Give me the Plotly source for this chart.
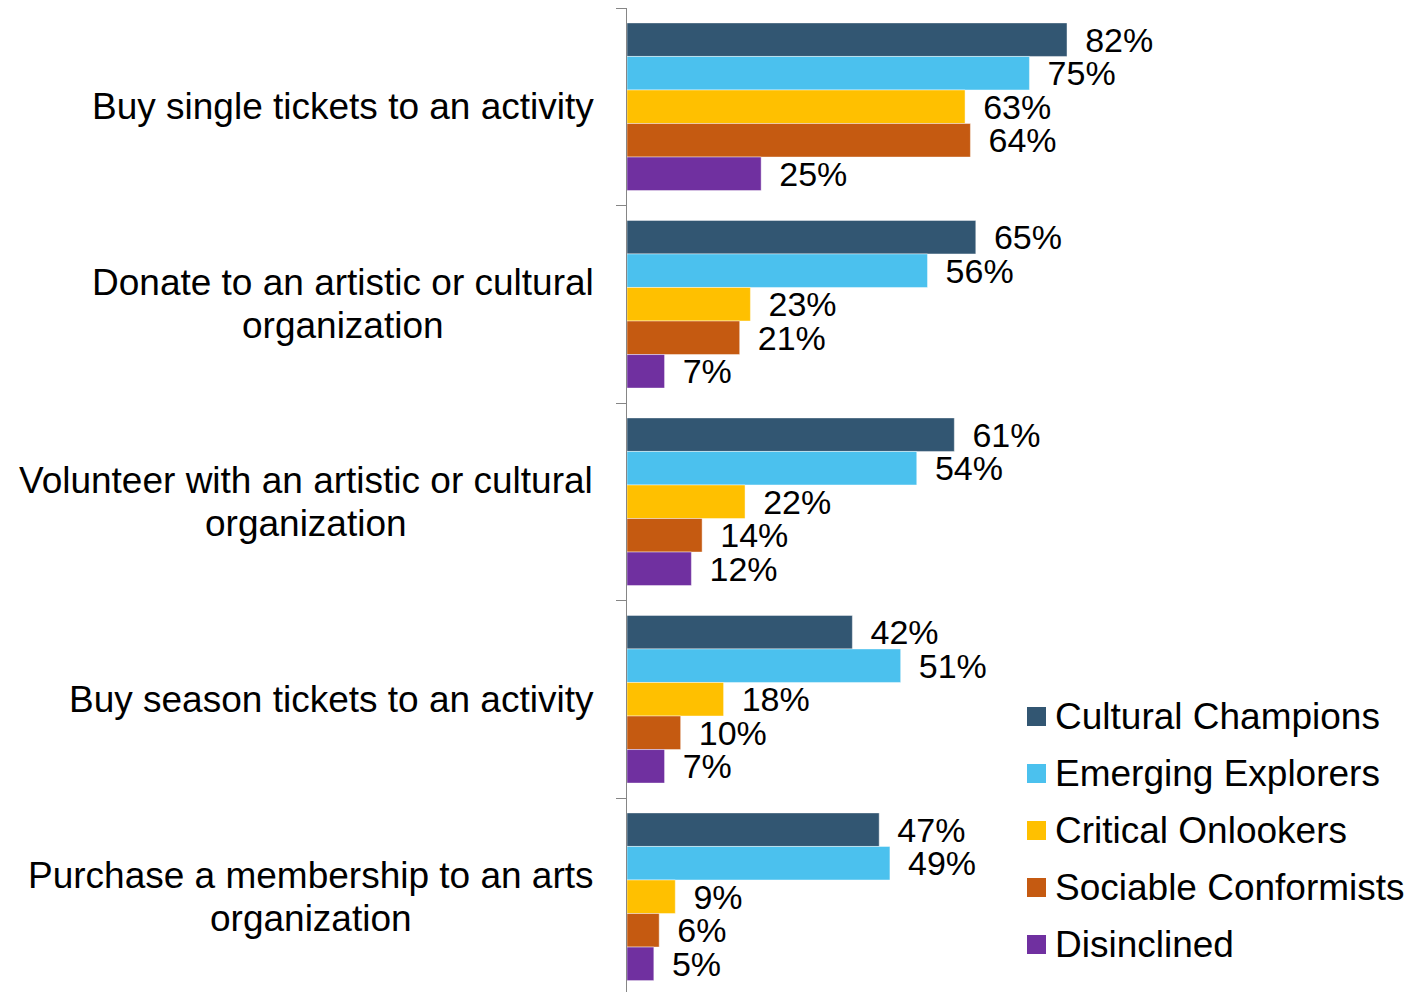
import plotly.graph_objects as go

# Survey activities (top to bottom); each entry is a list of label lines
categories = [
    ["Buy single tickets to an activity"],
    ["Donate to an artistic or cultural", "organization"],
    ["Volunteer with an artistic or cultural", "organization"],
    ["Buy season tickets to an activity"],
    ["Purchase a membership to an arts", "organization"],
]

segments = [
    "Cultural Champions",
    "Emerging Explorers",
    "Critical Onlookers",
    "Sociable Conformists",
    "Disinclined",
]

# Percent of each segment doing the activity, per category
cultural_champions = [82, 65, 61, 42, 47]
emerging_explorers = [75, 56, 54, 51, 49]
critical_onlookers = [63, 23, 22, 18, 9]
sociable_conformists = [64, 21, 14, 10, 6]
disinclined = [25, 7, 12, 7, 5]

series_values = [
    cultural_champions,
    emerging_explorers,
    critical_onlookers,
    sociable_conformists,
    disinclined,
]

colors = ["#325672", "#4BC1EE", "#FFC000", "#C55A11", "#7030A0"]

FONT = "Liberation Sans, Arial, sans-serif"
W, H = 1413, 992
M_L, M_T, M_R, M_B = 627, 8, 0, 0
PLOT_W = W - M_L - M_R
PLOT_H = H - M_T - M_B
PX_PER_PCT = 5.366
BAND_PX = 197.5
LABEL_SIZE = 37
LINE_GAP = 43
LABEL_RIGHT_PX = 594

# Advance widths (per 1000 em) of the Arial / Liberation Sans glyphs used
ADV = {
    " ": 278, "a": 556, "b": 556, "c": 500, "d": 556, "e": 556, "f": 278,
    "g": 556, "h": 556, "i": 222, "j": 222, "k": 500, "l": 222, "m": 833,
    "n": 556, "o": 556, "p": 556, "q": 556, "r": 333, "s": 500, "t": 278,
    "u": 556, "v": 500, "w": 722, "x": 500, "y": 500, "z": 500,
    "B": 667, "D": 722, "P": 667, "V": 667,
}


def text_width(s, size):
    return sum(ADV.get(ch, 556) for ch in s) / 1000 * size


def px_to_paper_x(px):
    return (px - M_L) / PLOT_W


def px_to_paper_y(py):
    return (H - M_B - py) / PLOT_H


y_idx = list(range(len(categories)))

fig = go.Figure()
for name, vals, col in zip(segments, series_values, colors):
    fig.add_trace(
        go.Bar(
            y=y_idx,
            x=vals,
            orientation="h",
            name=name,
            marker=dict(color=col, line=dict(color="rgba(255,255,255,0.55)", width=0.8)),
            text=[f"\u00a0\u2006{v}%" for v in vals],
            textposition="outside",
            constraintext="none",
            cliponaxis=False,
            textfont=dict(family=FONT, size=34, color="#000000"),
            showlegend=False,
            hoverinfo="skip",
        )
    )

# Category labels: the widest line is right-aligned beside the axis and
# every line is centred on it
for i, lines in enumerate(categories):
    n = len(lines)
    widest = max(text_width(s, LABEL_SIZE) for s in lines)
    centre_px = LABEL_RIGHT_PX - widest / 2
    for j, line in enumerate(lines):
        offset = (j - (n - 1) / 2) * LINE_GAP
        fig.add_annotation(
            x=px_to_paper_x(centre_px), xref="paper", y=i, yref="y",
            text=line, showarrow=False,
            xanchor="center", yanchor="middle", align="center",
            yshift=-offset,
            font=dict(family=FONT, size=LABEL_SIZE, color="#000000"),
        )

# Legend: coloured squares with labels
legend_y = [716.5, 773.5, 830.5, 887.5, 944.5]
sq = 19
for name, col, cy in zip(segments, colors, legend_y):
    fig.add_shape(
        type="rect", xref="paper", yref="paper",
        x0=px_to_paper_x(1027), x1=px_to_paper_x(1027 + sq),
        y0=px_to_paper_y(cy + sq / 2), y1=px_to_paper_y(cy - sq / 2),
        fillcolor=col, line=dict(width=0),
    )
    fig.add_annotation(
        x=px_to_paper_x(1053), xref="paper", y=px_to_paper_y(cy), yref="paper",
        text=name, showarrow=False, xanchor="left", yanchor="middle",
        font=dict(family=FONT, size=LABEL_SIZE, color="#000000"),
    )

n_bands = PLOT_H / BAND_PX
fig.update_layout(
    width=W, height=H,
    margin=dict(l=M_L, r=M_R, t=M_T, b=M_B, pad=0),
    barmode="group",
    bargap=0.151,
    bargroupgap=0,
    plot_bgcolor="white",
    paper_bgcolor="white",
    font=dict(family=FONT),
    xaxis=dict(
        range=[0, PLOT_W / PX_PER_PCT],
        visible=False,
        fixedrange=True,
    ),
    yaxis=dict(
        type="linear",
        range=[-0.5 + n_bands, -0.5],
        tickmode="array",
        tickvals=[i - 0.5 for i in range(len(categories) + 1)],
        ticktext=[""] * (len(categories) + 1),
        ticks="outside",
        ticklen=10,
        tickcolor="#868686",
        tickwidth=1,
        showline=True,
        linecolor="#868686",
        linewidth=1,
        showgrid=False,
        zeroline=False,
        fixedrange=True,
    ),
)

fig.write_html("out.html")
